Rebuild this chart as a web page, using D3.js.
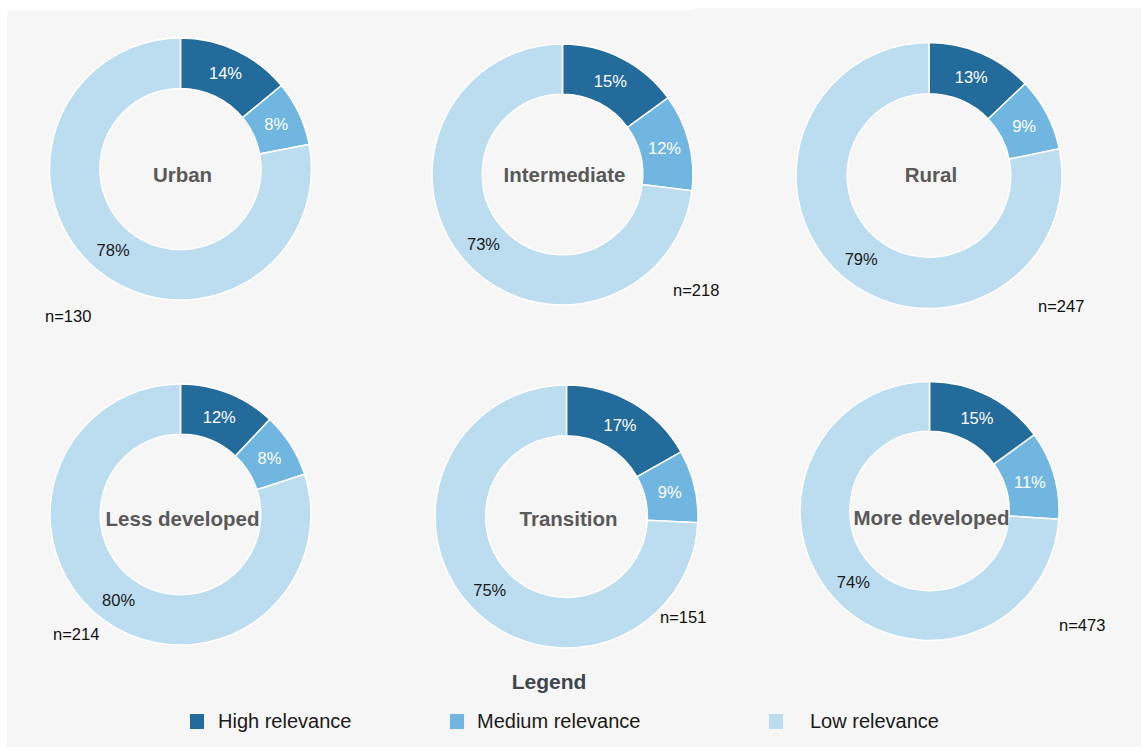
<!DOCTYPE html>
<html lang="en">
<head>
<meta charset="utf-8">
<title>Relevance by region type</title>
<script src="https://cdn.jsdelivr.net/npm/d3@7"></script>
<style>
  body { margin: 0; background: #ffffff; }
  text { font-family: "Liberation Sans", Arial, sans-serif; }
</style>
</head>
<body>
<div id="chart"></div>
<script>
// data
var regions = ["Urban", "Intermediate", "Rural", "Less developed", "Transition", "More developed"];
var categories = ["High relevance", "Medium relevance", "Low relevance"];
var high = [14, 15, 13, 12, 17, 15];
var medium = [8, 12, 9, 8, 9, 11];
var low = [78, 73, 79, 80, 75, 74];
var sampleSizes = [130, 218, 247, 214, 151, 473];

// layout of each donut (centre, radius, title shift, n= label position)
var layout = [
  { cx: 180.5, cy: 169,   r: 131,   titleDy: 6,   nx: 45,   ny: 322 },
  { cx: 562.5, cy: 174.5, r: 130.5, titleDy: 0.5, nx: 673,  ny: 296 },
  { cx: 929,   cy: 175.5, r: 133,   titleDy: -1,  nx: 1038, ny: 312 },
  { cx: 180.5, cy: 514.5, r: 130.5, titleDy: 4.5, nx: 53,   ny: 640 },
  { cx: 566.5, cy: 516.5, r: 131.5, titleDy: 2,   nx: 660,  ny: 623 },
  { cx: 929.5, cy: 511,   r: 129.5, titleDy: 7,   nx: 1059, ny: 631 }
];

var width = 1141, height = 747;

var color = d3.scaleOrdinal()
  .domain(categories)
  .range(["#236b9a", "#70b6e0", "#bcdcf0"]);

var labelColor = d3.scaleOrdinal()
  .domain(categories)
  .range(["#ffffff", "#ffffff", "#1a1a1a"]);

var svg = d3.select("#chart")
  .append("svg")
    .attr("width", width)
    .attr("height", height);

// grey panel
svg.append("rect")
  .attr("x", 7).attr("y", 10)
  .attr("width", width - 7).attr("height", height - 10)
  .attr("fill", "#f6f6f6");
svg.append("rect")
  .attr("x", 693).attr("y", 8)
  .attr("width", width - 693).attr("height", 4)
  .attr("fill", "#f6f6f6");

var pie = d3.pie()
  .sort(null)
  .value(function(d) { return d.value; });

regions.forEach(function(name, i) {
  var L = layout[i];
  var values = [high[i], medium[i], low[i]].map(function(v, k) {
    return { key: categories[k], value: v };
  });

  var arc = d3.arc()
    .innerRadius(L.r * 0.615)
    .outerRadius(L.r);

  var labelArc = d3.arc()
    .innerRadius(L.r * 0.807)
    .outerRadius(L.r * 0.807);

  var g = svg.append("g")
    .attr("transform", "translate(" + L.cx + "," + L.cy + ")");

  g.selectAll("path")
    .data(pie(values))
    .enter()
    .append("path")
      .attr("d", arc)
      .attr("fill", function(d) { return color(d.data.key); })
      .attr("stroke", "#ffffff")
      .attr("stroke-width", 1.5);

  g.selectAll("text.pct")
    .data(pie(values))
    .enter()
    .append("text")
      .attr("class", "pct")
      .attr("transform", function(d) { return "translate(" + labelArc.centroid(d) + ")"; })
      .attr("text-anchor", "middle")
      .attr("dy", "0.36em")
      .style("font-size", "16.5px")
      .style("fill", function(d) { return labelColor(d.data.key); })
      .text(function(d) { return d.data.value + "%"; });

  // region name in the hole
  g.append("text")
    .attr("x", 2)
    .attr("y", L.titleDy)
    .attr("dy", "0.36em")
    .attr("text-anchor", "middle")
    .style("font-size", "20.5px")
    .style("font-weight", "bold")
    .style("fill", "#595959")
    .text(name);

  svg.append("text")
    .attr("x", L.nx)
    .attr("y", L.ny)
    .style("font-size", "16.5px")
    .style("fill", "#111111")
    .text("n=" + sampleSizes[i]);
});

// legend
svg.append("text")
  .attr("x", 549)
  .attr("y", 689)
  .attr("text-anchor", "middle")
  .style("font-size", "21px")
  .style("font-weight", "bold")
  .style("fill", "#3f464d")
  .text("Legend");

var legendX = [190, 450, 769];
var legendTextX = [218, 477, 810];

var items = svg.selectAll("g.legend")
  .data(categories)
  .enter()
  .append("g")
    .attr("class", "legend");

items.append("rect")
  .attr("x", function(d, i) { return legendX[i]; })
  .attr("y", 714)
  .attr("width", 14)
  .attr("height", 15)
  .attr("fill", function(d) { return color(d); });

items.append("text")
  .attr("x", function(d, i) { return legendTextX[i]; })
  .attr("y", 728)
  .style("font-size", "20px")
  .style("fill", "#1a1a1a")
  .text(function(d) { return d; });
</script>
</body>
</html>
